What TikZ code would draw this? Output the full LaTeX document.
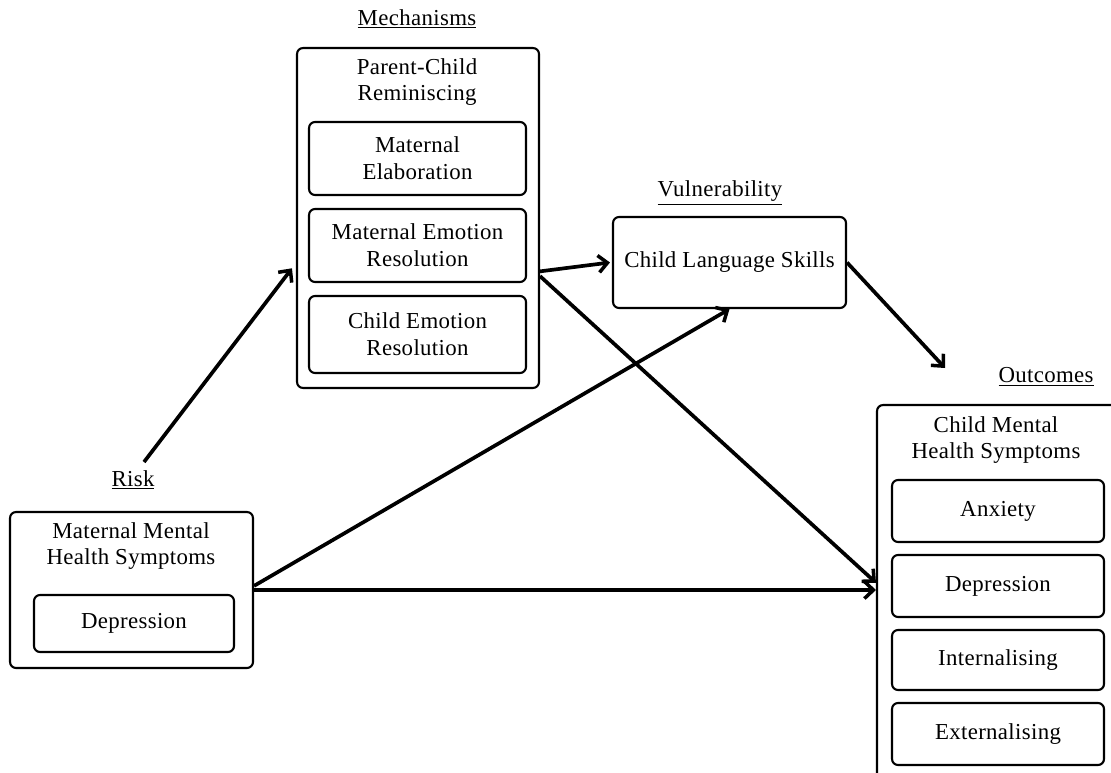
\documentclass[tikz,border=0pt]{standalone}
\usepackage{fontspec}
\setmainfont[LetterSpace=1.5]{Liberation Serif}
\usepackage{tikz}
\usetikzlibrary{positioning, calc, arrows.meta}

\begin{document}
\begin{tikzpicture}[x=0.02cm, y=-0.02cm,
	every node/.style={font=\fontsize{13}{15.3}\selectfont, align=center, inner sep=0pt},
	outerbox/.style={draw, line width=1.2pt, rounded corners=0.12cm},
	innerbox/.style={draw, line width=1.2pt, rounded corners=0.12cm},
	arr/.style={line width=2.1pt, -{Straight Barb[length=1.8mm, width=3.4mm, line width=2pt]}},
	hdr/.style={font=\fontsize{13}{15.3}\selectfont}]
	\clip (0,0) rectangle (1111,773);
	\fill[white] (0,0) rectangle (1111,773);
	
	% mechanisms
	\node[hdr] (mechlbl) at (417,19) {\underline{Mechanisms}};
	\node[outerbox, minimum width=4.84cm, minimum height=6.8cm] (mech) at (418,218) {};
	\node (mechttl) at (417,82) {Parent-Child\\Reminiscing};
	\node[innerbox, minimum width=4.34cm, minimum height=1.46cm] (elab) at (417.5,158.5) {Maternal\\Elaboration};
	\node[innerbox, minimum width=4.34cm, minimum height=1.46cm] (memo) at (417.5,245.5) {Maternal Emotion\\Resolution};
	\node[innerbox, minimum width=4.34cm, minimum height=1.54cm] (cemo) at (417.5,334.5) {Child Emotion\\Resolution};
	
	% vulnerability
	\node[hdr] (vullbl) at (720,193) {\underline{Vulnerability}};
	\node[outerbox, minimum width=4.66cm, minimum height=1.82cm] (cls) at (729.5,262.5) {Child Language Skills};
	
	% risk
	\node[hdr] (risklbl) at (133,480) {\underline{Risk}};
	\node[outerbox, minimum width=4.86cm, minimum height=3.12cm] (risk) at (131.5,590) {};
	\node (riskttl) at (131,546) {Maternal Mental\\Health Symptoms};
	\node[innerbox, minimum width=4cm, minimum height=1.14cm] (mdep) at (134,623.5) {Depression};
	
	% outcomes
	\node[hdr] (outlbl) at (1046,377) {\underline{Outcomes}};
	\node[outerbox, minimum width=4.86cm, minimum height=7.7cm] (outc) at (998.5,597.5) {};
	\node (outttl) at (996,440) {Child Mental\\Health Symptoms};
	\node[innerbox, minimum width=4.24cm, minimum height=1.24cm] (anx) at (998,511) {Anxiety};
	\node[innerbox, minimum width=4.24cm, minimum height=1.24cm] (cdep) at (998,586) {Depression};
	\node[innerbox, minimum width=4.24cm, minimum height=1.2cm] (intl) at (998,660) {Internalising};
	\node[innerbox, minimum width=4.24cm, minimum height=1.24cm] (extl) at (998,734) {Externalising};
	
	% paths
	\coordinate (riskstart) at (144,462);
	\coordinate (outtip) at (945,368);
	\draw[arr] (riskstart) -- ([xshift=-0.08cm]$(mech.north west)!0.647!(mech.south west)$);
	\draw[arr] ($(mech.north east)!0.656!(mech.south east)$) -- ([xshift=-0.04cm]cls.west);
	\draw[arr] ($(mech.north east)!0.67!(mech.south east)$) -- ($(outc.north west)!0.462!(outc.south west)$);
	\draw[arr] ($(risk.north east)!0.474!(risk.south east)$) -- (cls.south);
	\draw[arr] (risk.east) -- (risk.east -| outc.west);
	\draw[arr] (cls.east) -- (outtip);
\end{tikzpicture}
\end{document}
